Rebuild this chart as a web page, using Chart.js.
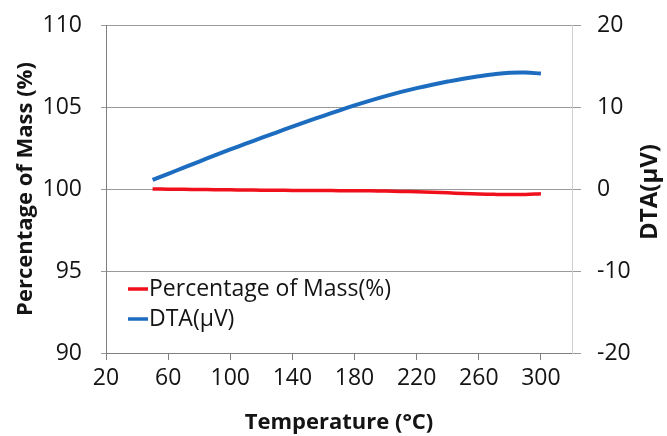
<!DOCTYPE html>
<html>
<head>
<meta charset="utf-8">
<script src="https://cdn.jsdelivr.net/npm/chart.js@4/dist/chart.umd.min.js"></script>
<style>
  html, body { margin: 0; padding: 0; background: #fff; }
  #wrap { width: 667px; height: 436px; }
</style>
</head>
<body>
<div id="wrap"><canvas id="c" width="667" height="436"></canvas></div>
<script>
// Temperature (°C) at which both signals were sampled
const temperatures = [50, 60, 70, 80, 90, 100, 110, 120, 130, 140, 150, 160, 170,
                      180, 190, 200, 210, 220, 230, 240, 250, 260, 270, 280, 290, 300];
// Remaining mass, percent of initial
const massPercent = [100.00, 99.99, 99.98, 99.97, 99.96, 99.95, 99.94, 99.93, 99.92, 99.915,
                     99.91, 99.905, 99.90, 99.90, 99.89, 99.875, 99.855, 99.83, 99.80, 99.765,
                     99.73, 99.70, 99.675, 99.66, 99.665, 99.71];
// DTA signal, µV
const dtaMicroVolt = [1.1, 1.85, 2.6, 3.35, 4.1, 4.82, 5.53, 6.23, 6.92, 7.6, 8.27, 8.93, 9.57,
                      10.19, 10.78, 11.33, 11.84, 12.3, 12.72, 13.1, 13.45, 13.75, 14.0, 14.17, 14.2, 14.08];

const xTicks = [20, 60, 100, 140, 180, 220, 260, 300];
const massTicks = [90, 95, 100, 105, 110];
const dtaTicks = [-20, -10, 0, 10, 20];

const seriesNames = ['Percentage of Mass(%)', 'DTA(\u03bcV)'];
const xTitle = 'Temperature (\u00b0C)';
const massTitle = 'Percentage of Mass (%)';
const dtaTitle = 'DTA(\u03bcV)';

const FONT = '"Open Sans", Lato, sans-serif';
const TEXT = '#141414';
const RED = '#f0101c';
const BLUE = '#1c6dc0';

const toPoints = ys => temperatures.map((t, i) => ({ x: t, y: ys[i] }));
const fixTicks = list => scale => { scale.ticks = list.map(v => ({ value: v })); };
// keep the vertical axes from pushing the plot down by their label padding
const fitVertical = width => scale => {
  scale.width = width;
  scale.paddingTop = 13;
  scale.paddingBottom = 13;
};

// Legend inside the plot and the right-hand axis title (read bottom to top)
const extras = {
  id: 'extras',
  afterDraw(chart) {
    const { ctx, chartArea } = chart;
    ctx.save();
    ctx.font = '23px ' + FONT;
    ctx.textBaseline = 'middle';
    ctx.textAlign = 'left';
    const lx = chartArea.left + 22;
    const rows = [chartArea.top + 264, chartArea.top + 294];
    [RED, BLUE].forEach((col, i) => {
      ctx.strokeStyle = col;
      ctx.lineWidth = 3.5;
      ctx.beginPath();
      ctx.moveTo(lx, rows[i]);
      ctx.lineTo(lx + 20, rows[i]);
      ctx.stroke();
      ctx.fillStyle = TEXT;
      ctx.fillText(seriesNames[i], lx + 21, rows[i]);
    });
    ctx.translate(650, (chartArea.top + chartArea.bottom) / 2 + 3);
    ctx.rotate(-Math.PI / 2);
    ctx.textAlign = 'center';
    ctx.font = 'bold 24px ' + FONT;
    ctx.fillText(dtaTitle, 0, 0);
    ctx.restore();
  }
};

new Chart(document.getElementById('c'), {
  type: 'line',
  data: {
    datasets: [
      { label: seriesNames[0], data: toPoints(massPercent), yAxisID: 'y',
        borderColor: RED, borderWidth: 3.5, pointRadius: 0, tension: 0.4 },
      { label: seriesNames[1], data: toPoints(dtaMicroVolt), yAxisID: 'y2',
        borderColor: BLUE, borderWidth: 4, pointRadius: 0, tension: 0.4 }
    ]
  },
  options: {
    responsive: false,
    animation: false,
    devicePixelRatio: 1,
    layout: { padding: { top: 25, left: 0, right: 0, bottom: 0 } },
    plugins: { legend: { display: false }, tooltip: { enabled: false } },
    scales: {
      x: {
        type: 'linear', min: 20, max: 320,
        afterBuildTicks: fixTicks(xTicks),
        afterFit: s => { s.height = 83; },
        grid: { drawOnChartArea: false, drawTicks: true, tickLength: 7, color: '#7f7f7f' },
        border: { color: '#7f7f7f', width: 1 },
        ticks: { font: { family: FONT, size: 23 }, color: TEXT, padding: 5, maxRotation: 0 },
        title: { display: true, text: xTitle, color: TEXT,
                 font: { family: FONT, size: 22, weight: 'bold' }, padding: { top: 0, bottom: 0 } }
      },
      y: {
        position: 'left', min: 90, max: 110,
        afterBuildTicks: fixTicks(massTicks),
        afterFit: fitVertical(106),
        grid: { color: '#9a9a9a', tickLength: 5 },
        border: { color: '#7f7f7f', width: 1 },
        ticks: { font: { family: FONT, size: 23 }, color: TEXT, padding: 19 },
        title: { display: true, text: massTitle, color: TEXT,
                 font: { family: FONT, size: 22, weight: 'bold' }, padding: { top: 13, bottom: 0 } }
      },
      y2: {
        position: 'right', min: -20, max: 20,
        afterBuildTicks: fixTicks(dtaTicks),
        afterFit: fitVertical(95),
        grid: { drawOnChartArea: false, color: '#9a9a9a', tickLength: 9 },
        border: { color: '#cfcfcf', width: 1 },
        ticks: { font: { family: FONT, size: 23 }, color: TEXT, padding: 16 }
      }
    }
  },
  plugins: [extras]
});
</script>
</body>
</html>
